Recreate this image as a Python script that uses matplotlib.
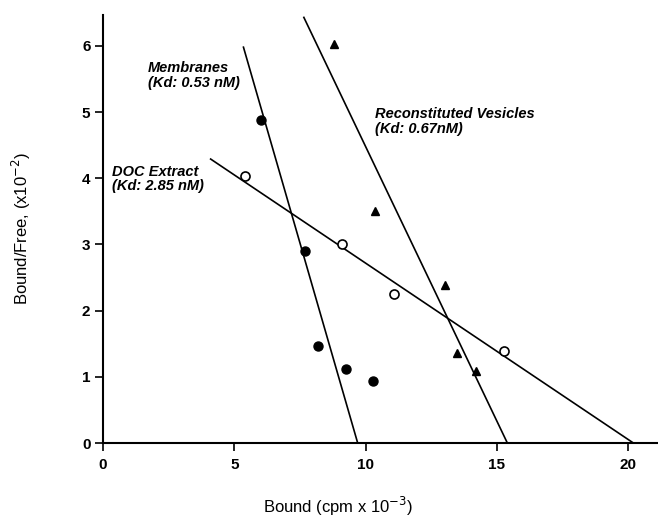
import matplotlib.pyplot as plt

plt.rcParams['font.family'] = ['Liberation Sans', 'DejaVu Sans']

# Scatchard data (Bound, Bound/Free)
membranes_x = [6.0, 7.7, 8.2, 9.25, 10.27]
membranes_y = [4.88, 2.9, 1.47, 1.12, 0.93]
doc_x = [5.4, 9.1, 11.1, 15.27]
doc_y = [4.03, 3.0, 2.25, 1.39]
vesicles_x = [8.8, 10.37, 13.03, 13.5, 14.2]
vesicles_y = [6.03, 3.5, 2.39, 1.36, 1.09]

# fitted lines, end points
membranes_fit_x = [5.35, 9.7]
membranes_fit_y = [5.98, 0.0]
doc_fit_x = [4.1, 20.2]
doc_fit_y = [4.29, 0.0]
vesicles_fit_x = [7.65, 15.4]
vesicles_fit_y = [6.43, 0.0]

xticks = [0, 5, 10, 15, 20]
yticks = [0, 1, 2, 3, 4, 5, 6]

fig = plt.figure(figsize=(6.58, 5.21), dpi=100)
ax = fig.add_axes((0.1565, 0.1497, 0.85, 0.822))

ax.plot(membranes_fit_x, membranes_fit_y, color='black', lw=1.2)
ax.plot(doc_fit_x, doc_fit_y, color='black', lw=1.2)
ax.plot(vesicles_fit_x, vesicles_fit_y, color='black', lw=1.2)

ax.plot(membranes_x, membranes_y, 'o', color='black', ms=6.5, zorder=3)
ax.plot(doc_x, doc_y, 'o', mfc='white', mec='black', mew=1.2, ms=6.5, zorder=3)
ax.plot(vesicles_x, vesicles_y, '^', color='black', ms=5.5, zorder=3)

lab = dict(fontsize=10.5, fontweight='bold', fontstyle='italic', linespacing=1.05)
ax.text(1.7, 5.55, 'Membranes\n(Kd: 0.53 nM)', va='center', **lab)
ax.text(0.35, 3.99, 'DOC Extract\n(Kd: 2.85 nM)', va='center', **lab)
ax.text(10.35, 4.86, 'Reconstituted Vesicles\n(Kd: 0.67nM)', va='center', **lab)

ax.set_xlim(0, 21.3)
ax.set_ylim(0, 6.47)
ax.set_xticks(xticks)
ax.set_yticks(yticks)
ax.tick_params(labelsize=11, length=6, width=1.2, direction='out', pad=5)
ax.tick_params(axis='y', pad=3)
for lbl in ax.get_xticklabels() + ax.get_yticklabels():
    lbl.set_fontweight('bold')
ax.spines['top'].set_visible(False)
ax.spines['right'].set_visible(False)
ax.spines['left'].set_linewidth(1.5)
ax.spines['bottom'].set_linewidth(1.5)

ax.set_xlabel('Bound (cpm x 10$^{-3}$)', fontsize=12)
ax.set_ylabel('Bound/Free, (x10$^{-2}$)', fontsize=12)
ax.xaxis.set_label_coords(0.42, -0.122)
ax.yaxis.set_label_coords(-0.125, 0.5)

fig.savefig('out.png', dpi=100)
